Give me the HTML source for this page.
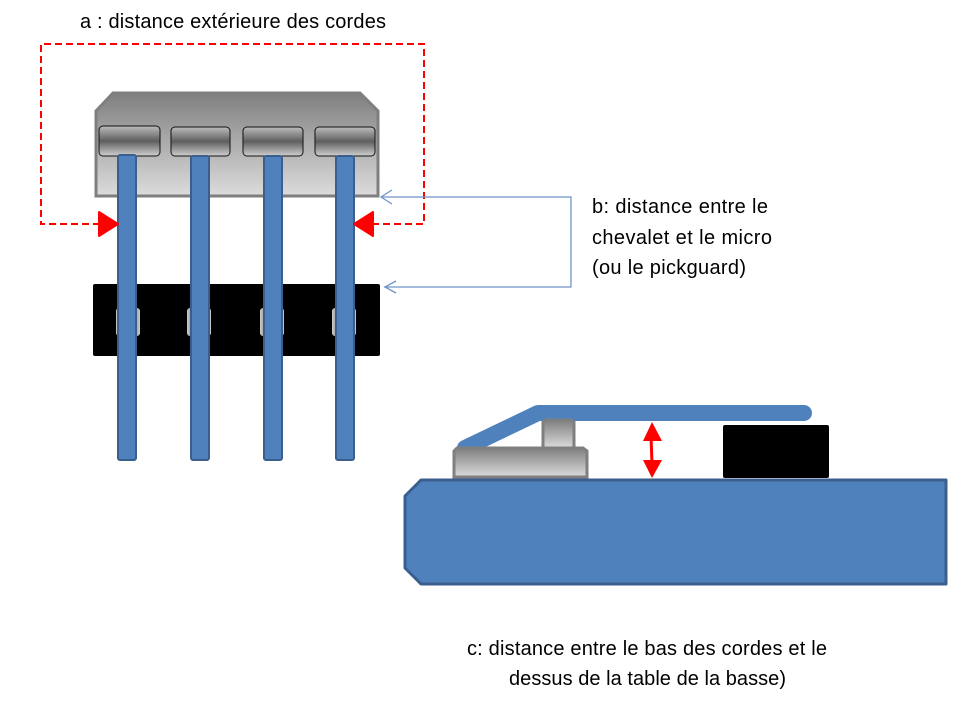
<!DOCTYPE html>
<html><head><meta charset="utf-8"><style>
body{margin:0;background:#fff;}
svg{display:block;font-family:"Liberation Sans",sans-serif;}
</style></head><body>
<svg width="971" height="708" viewBox="0 0 971 708" xmlns="http://www.w3.org/2000/svg">
<defs>
<linearGradient id="br" x1="0" y1="0" x2="0" y2="1"><stop offset="0" stop-color="#7f7f7f"/><stop offset="1" stop-color="#dcdcdc"/></linearGradient>
<linearGradient id="sd" x1="0" y1="0" x2="0" y2="1"><stop offset="0" stop-color="#bdbdbd"/><stop offset="0.5" stop-color="#5e5e5e"/><stop offset="1" stop-color="#d0d0d0"/></linearGradient>
<linearGradient id="pp" x1="0" y1="0" x2="1" y2="0"><stop offset="0" stop-color="#ccc"/><stop offset="0.5" stop-color="#444"/><stop offset="1" stop-color="#ccc"/></linearGradient>
</defs>
<text x="233" y="28" font-size="20" text-anchor="middle" fill="#000" textLength="306">a : distance extérieure des cordes</text>
<path d="M113,93 H360 L378,111 V196 H96 V111 Z" fill="url(#br)" stroke="#7f7f7f" stroke-width="3"/>
<rect x="99" y="126" width="61" height="30" rx="4" fill="url(#sd)" stroke="#111" stroke-width="1"/>
<rect x="171" y="127" width="59" height="29" rx="4" fill="url(#sd)" stroke="#111" stroke-width="1"/>
<rect x="243" y="127" width="60" height="29" rx="4" fill="url(#sd)" stroke="#111" stroke-width="1"/>
<rect x="315" y="127" width="60" height="29" rx="4" fill="url(#sd)" stroke="#111" stroke-width="1"/>
<rect x="93" y="284" width="287" height="72" rx="2" fill="#000"/>
<g fill="url(#pp)"><rect x="116" y="308" width="24" height="28" rx="3"/><rect x="187" y="308" width="24" height="28" rx="3"/><rect x="260" y="308" width="24" height="28" rx="3"/><rect x="332" y="308" width="24" height="28" rx="3"/></g>
<g fill="#4f81bd" stroke="#3a5f8f" stroke-width="2">
<rect x="118" y="155" width="18" height="305" rx="2"/>
<rect x="191" y="156" width="18" height="304" rx="2"/>
<rect x="264" y="156" width="18" height="304" rx="2"/>
<rect x="336" y="156" width="18" height="304" rx="2"/>
</g>
<path d="M100,224 H41 V44 H424 V224 H370" fill="none" stroke="#f00" stroke-width="2" stroke-dasharray="7,4"/>
<path d="M99,212 L118,224 L99,236 Z" fill="#f00" stroke="#f00" stroke-width="2" stroke-linejoin="round"/>
<path d="M373,212 L354,224 L373,236 Z" fill="#f00" stroke="#f00" stroke-width="2" stroke-linejoin="round"/>
<path d="M381,197 H571 V287 H384" fill="none" stroke="#6f95c8" stroke-width="1.3"/>
<path d="M392,190 L381,197 L392,204" fill="none" stroke="#6f95c8" stroke-width="1.3"/>
<path d="M396,281 L385,287 L396,293" fill="none" stroke="#6f95c8" stroke-width="1.3"/>
<text font-size="20" fill="#000"><tspan x="592" y="213" textLength="176">b: distance entre le</tspan><tspan x="592" y="244" textLength="180">chevalet et le micro</tspan><tspan x="592" y="274" textLength="154">(ou le pickguard)</tspan></text>
<path d="M421,480 H946 V584 H421 L405,568 V496 Z" fill="#4f81bd" stroke="#3a5f8f" stroke-width="3" stroke-linejoin="round"/>
<path d="M465,448 L538,413 H804" fill="none" stroke="#4f81bd" stroke-width="16" stroke-linecap="round" stroke-linejoin="round"/>
<path d="M454,451 L457,448 H583 L587,451 V477 H454 Z" fill="url(#br)" stroke="#7f7f7f" stroke-width="3"/>
<path d="M543,422 L546,420 H571 L574,422 V448 H543 Z" fill="url(#br)" stroke="#7f7f7f" stroke-width="3"/>
<rect x="723" y="425" width="106" height="53" rx="2" fill="#000"/>
<line x1="651" y1="436" x2="652" y2="464" stroke="#f00" stroke-width="3"/>
<path d="M652,422 L643,441 H662 Z M652,478 L643,460 H662 Z" fill="#f00"/>
<text font-size="20" fill="#000"><tspan x="467" y="655" textLength="360">c: distance entre le bas des cordes et le</tspan><tspan x="509" y="685" textLength="277">dessus de la table de la basse)</tspan></text>
</svg>
</body></html>
